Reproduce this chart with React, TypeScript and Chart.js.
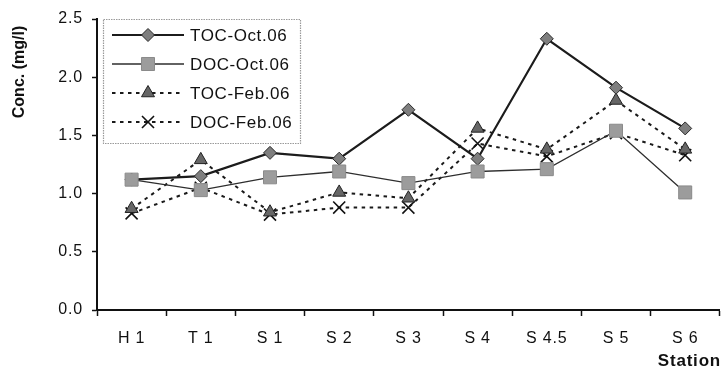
import React, { useEffect, useRef } from 'react';
import { Chart, registerables } from 'chart.js';

Chart.register(...registerables);

// ---- data ----
const stations = ['H 1', 'T 1', 'S 1', 'S 2', 'S 3', 'S 4', 'S 4.5', 'S 5', 'S 6'];
const tocOct06 = [1.12, 1.15, 1.35, 1.30, 1.72, 1.30, 2.33, 1.91, 1.56];
const docOct06 = [1.12, 1.03, 1.14, 1.19, 1.09, 1.19, 1.21, 1.54, 1.01];
const tocFeb06 = [0.87, 1.29, 0.84, 1.01, 0.96, 1.56, 1.38, 1.80, 1.38];
const docFeb06 = [0.83, 1.05, 0.82, 0.88, 0.88, 1.43, 1.32, 1.52, 1.33];
const seriesNames = ['TOC-Oct.06', 'DOC-Oct.06', 'TOC-Feb.06', 'DOC-Feb.06'];
const yMin = 0;
const yMax = 2.5;
const yStep = 0.5;
const xTitle = 'Station';
const yTitle = 'Conc. (mg/l)';

// ---- styles ----
const FONT = '"Liberation Sans", Arial, Helvetica, sans-serif';
const styles = [
  { line: '#1c1c1c', lw: 2.2, dash: [] as number[], point: 'rectRot', r: 6.5, fill: '#7f7f7f', border: '#2a2a2a', bw: 1, order: 1 },
  { line: '#2e2e2e', lw: 1.3, dash: [] as number[], point: 'rect', r: 9.2, fill: '#9c9c9c', border: '#8a8a8a', bw: 1, order: 0 },
  { line: '#1a1a1a', lw: 2, dash: [3.5, 4.5], point: 'triangle', r: 7.5, fill: '#666666', border: '#222222', bw: 1, order: 2 },
  { line: '#1a1a1a', lw: 2, dash: [3.5, 4.5], point: 'crossRot', r: 8.5, fill: '#111111', border: '#111111', bw: 1.6, order: 3 },
];
const seriesData = [tocOct06, docOct06, tocFeb06, docFeb06];

function drawMarker(ctx: CanvasRenderingContext2D, s: any, x: number, y: number) {
  const r = s.r;
  ctx.save();
  ctx.setLineDash([]);
  ctx.fillStyle = s.fill;
  ctx.strokeStyle = s.border;
  ctx.lineWidth = s.bw;
  ctx.beginPath();
  if (s.point === 'rectRot') {
    ctx.moveTo(x, y - r);
    ctx.lineTo(x + r, y);
    ctx.lineTo(x, y + r);
    ctx.lineTo(x - r, y);
    ctx.closePath();
    ctx.fill();
    ctx.stroke();
  } else if (s.point === 'rect') {
    const h = Math.SQRT1_2 * r;
    ctx.rect(x - h, y - h, 2 * h, 2 * h);
    ctx.fill();
    ctx.stroke();
  } else if (s.point === 'triangle') {
    for (let i = 0; i < 3; i++) {
      const a = (i * 2 * Math.PI) / 3;
      const px = x + Math.sin(a) * r;
      const py = y - Math.cos(a) * r;
      if (i === 0) ctx.moveTo(px, py);
      else ctx.lineTo(px, py);
    }
    ctx.closePath();
    ctx.fill();
    ctx.stroke();
  } else {
    const h = Math.SQRT1_2 * r;
    ctx.moveTo(x - h, y - h);
    ctx.lineTo(x + h, y + h);
    ctx.moveTo(x - h, y + h);
    ctx.lineTo(x + h, y - h);
    ctx.stroke();
  }
  ctx.restore();
}

const spacingPlugin = {
  id: 'spacing',
  beforeUpdate(chart: any) {
    (chart.ctx as any).letterSpacing = '0.8px';
  },
  beforeDraw(chart: any) {
    (chart.ctx as any).letterSpacing = '0.8px';
  },
};

const decorPlugin = {
  id: 'decor',
  afterDraw(chart: any) {
    const ctx: CanvasRenderingContext2D = chart.ctx;
    ctx.save();
    // legend box
    const bx = 103.5, by = 19.5, bw = 197, bh = 124;
    ctx.fillStyle = '#ffffff';
    ctx.fillRect(bx, by, bw, bh);
    ctx.strokeStyle = '#9a9a9a';
    ctx.lineWidth = 1.2;
    ctx.setLineDash([1.5, 1]);
    ctx.strokeRect(bx, by, bw, bh);
    const rows = [35, 64, 93, 122];
    for (let i = 0; i < seriesNames.length; i++) {
      const s = styles[i];
      const y = rows[i];
      ctx.save();
      ctx.strokeStyle = s.line;
      ctx.lineWidth = s.lw;
      ctx.setLineDash(s.dash);
      ctx.beginPath();
      ctx.moveTo(112, y);
      ctx.lineTo(184, y);
      ctx.stroke();
      ctx.restore();
      drawMarker(ctx, s, 148, y);
      (ctx as any).letterSpacing = '0.6px';
      ctx.fillStyle = '#111111';
      ctx.font = `17px ${FONT}`;
      ctx.textAlign = 'left';
      ctx.textBaseline = 'middle';
      ctx.fillText(seriesNames[i], 190, y + 1);
    }
    // y title
    ctx.save();
    (ctx as any).letterSpacing = '0px';
    ctx.translate(20, 72);
    ctx.rotate(-Math.PI / 2);
    ctx.font = `bold 16px ${FONT}`;
    ctx.fillStyle = '#111111';
    ctx.textAlign = 'center';
    ctx.textBaseline = 'middle';
    ctx.fillText(yTitle, 0, 0);
    ctx.restore();
    // x title
    (ctx as any).letterSpacing = '0.8px';
    ctx.font = `bold 17px ${FONT}`;
    ctx.fillStyle = '#111111';
    ctx.textAlign = 'right';
    ctx.textBaseline = 'middle';
    ctx.fillText(xTitle, 721, 361);
    ctx.restore();
  },
};

export default function App() {
  const ref = useRef<HTMLCanvasElement>(null);
  useEffect(() => {
    if (!ref.current) return;
    const chart = new Chart(ref.current, {
      type: 'line',
      data: {
        labels: stations,
        datasets: seriesData.map((d, i) => {
          const s = styles[i];
          return {
            label: seriesNames[i],
            data: d,
            borderColor: s.line,
            borderWidth: s.lw,
            borderDash: s.dash,
            tension: 0,
            fill: false,
            order: s.order,
            pointStyle: s.point as any,
            pointRadius: s.r,
            pointHoverRadius: s.r,
            pointBackgroundColor: s.fill,
            pointBorderColor: s.border,
            pointBorderWidth: s.bw,
          };
        }),
      },
      options: {
        animation: false,
        responsive: false,
        devicePixelRatio: 1,
        layout: { padding: { top: 19, left: 0, right: 1, bottom: 0 } },
        plugins: {
          legend: { display: false },
          tooltip: { enabled: false },
          title: { display: false },
        },
        scales: {
          x: {
            type: 'category',
            offset: true,
            grid: {
              display: true,
              offset: true,
              drawOnChartArea: false,
              drawTicks: true,
              tickLength: 6,
              tickColor: '#111111',
              tickWidth: 1.5,
            },
            border: { display: true, color: '#111111', width: 2 },
            ticks: {
              color: '#111111',
              font: { family: FONT, size: 16 },
              padding: 13,
              maxRotation: 0,
              autoSkip: false,
            },
            afterFit(scale: any) {
              scale.height = 59;
            },
          },
          y: {
            type: 'linear',
            min: yMin,
            max: yMax,
            grid: {
              display: true,
              drawOnChartArea: false,
              drawTicks: true,
              tickLength: 5,
              tickColor: '#111111',
              tickWidth: 1.5,
            },
            border: { display: true, color: '#111111', width: 2 },
            ticks: {
              stepSize: yStep,
              color: '#111111',
              font: { family: FONT, size: 16 },
              padding: 9,
              callback: (v: any) => Number(v).toFixed(1),
            },
            afterFit(scale: any) {
              scale.width = 97;
            },
          },
        },
      },
      plugins: [spacingPlugin, decorPlugin],
    });
    return () => chart.destroy();
  }, []);
  return (
    <div style={{ position: 'fixed', left: 0, top: 0, width: 730, height: 369, overflow: 'hidden', background: '#fff' }}>
      <canvas ref={ref} width={730} height={369} style={{ display: 'block' }} />
    </div>
  );
}
